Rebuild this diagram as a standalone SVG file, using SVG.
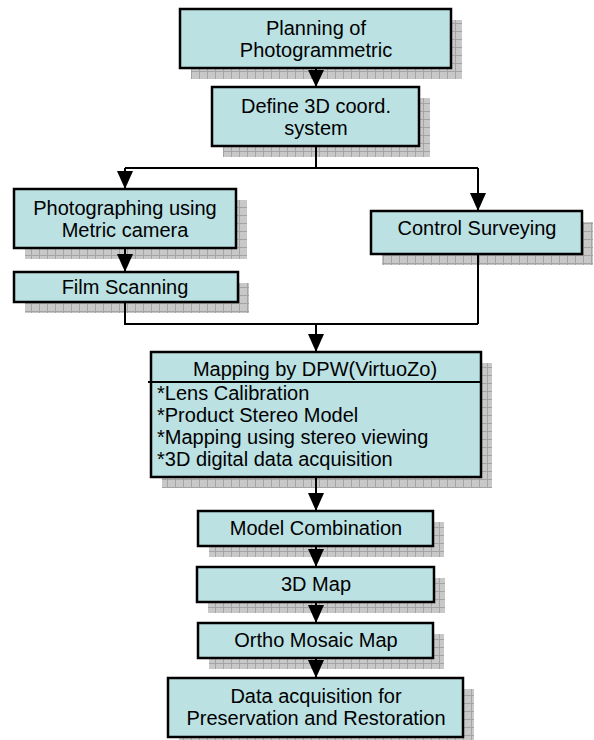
<svg xmlns="http://www.w3.org/2000/svg" width="594" height="740" viewBox="0 0 594 740">
<style>
.box{fill:#bbe1e3;stroke:#000;stroke-width:2.5}
.sh{fill:url(#grid)}
.t{font-family:"Liberation Sans",Arial,sans-serif;font-size:20px;fill:#000;text-anchor:middle}
.tl{font-family:"Liberation Sans",Arial,sans-serif;font-size:20px;fill:#000}
.c{fill:none;stroke:#000;stroke-width:2}
</style>
<defs>
<pattern id="grid" patternUnits="userSpaceOnUse" width="8" height="8">
<rect width="8" height="8" fill="#c8c8c8"/>
<path d="M7.5 0V8M0 7.5H8" stroke="#a4a4a4" stroke-width="1"/>
</pattern>
</defs>
<rect width="594" height="740" fill="#fff"/>
<g id="n1"><rect class="sh" x="191" y="20" width="271" height="59"/><rect class="box" x="180" y="9" width="271" height="59"/>
<text class="t" x="316" y="35">Planning of</text><text class="t" x="316" y="57">Photogrammetric</text></g>
<g id="n2"><rect class="sh" x="223" y="98" width="207" height="59"/><rect class="box" x="212" y="87" width="207" height="59"/>
<text class="t" x="316" y="113">Define 3D coord.</text><text class="t" x="316" y="135">system</text></g>
<g id="n3"><rect class="sh" x="25" y="200" width="222" height="59"/><rect class="box" x="14" y="189" width="222" height="59"/>
<text class="t" x="125" y="215">Photographing using</text><text class="t" x="125" y="237">Metric camera</text></g>
<g id="n4"><rect class="sh" x="25" y="283" width="224" height="30"/><rect class="box" x="14" y="272" width="224" height="30"/>
<text class="t" x="125" y="294">Film Scanning</text></g>
<g id="n5"><rect class="sh" x="382" y="222" width="211" height="43"/><rect class="box" x="371" y="211" width="211" height="43"/>
<text class="t" x="477" y="235">Control Surveying</text></g>
<g id="n6"><rect class="sh" x="162" y="363" width="330" height="125"/><rect class="box" x="151" y="352" width="330" height="125"/>
<path d="M148 382H481" stroke="#000" stroke-width="2"/>
<text class="t" x="315" y="376">Mapping by DPW(VirtuoZo)</text>
<text class="tl" x="157" y="400">*Lens Calibration</text>
<text class="tl" x="157" y="422">*Product Stereo Model</text>
<text class="tl" x="157" y="444">*Mapping using stereo viewing</text>
<text class="tl" x="157" y="466">*3D digital data acquisition</text></g>
<g id="n7"><rect class="sh" x="209" y="522" width="235" height="35"/><rect class="box" x="198" y="511" width="235" height="35"/>
<text class="t" x="316" y="535">Model Combination</text></g>
<g id="n8"><rect class="sh" x="208" y="578" width="237" height="35"/><rect class="box" x="197" y="567" width="237" height="35"/>
<text class="t" x="316" y="591">3D Map</text></g>
<g id="n9"><rect class="sh" x="209" y="634" width="235" height="35"/><rect class="box" x="198" y="623" width="235" height="35"/>
<text class="t" x="316" y="647">Ortho Mosaic Map</text></g>
<g id="n10"><rect class="sh" x="179" y="689" width="295" height="60"/><rect class="box" x="168" y="678" width="295" height="59"/>
<text class="t" x="316" y="703">Data acquisition for</text><text class="t" x="316" y="725">Preservation and Restoration</text></g>
<g id="connectors">
<path class="c" d="M316 69V86"/>
<path class="c" d="M316 147V168M125 168H478"/>
<path class="c" d="M125 168V188"/>
<path class="c" d="M478 168V210"/>
<path class="c" d="M125 249V271"/>
<path class="c" d="M125 303V324H478M478 255V324"/>
<path class="c" d="M316 324V351"/>
<path class="c" d="M316 478V510"/>
<path class="c" d="M316 547V566"/>
<path class="c" d="M316 603V622"/>
<path class="c" d="M316 659V677"/>
<g fill="#000">
<path d="M308 70H324L316 87Z"/>
<path d="M117 171H133L125 189Z"/>
<path d="M470 193H486L478 211Z"/>
<path d="M117 254H133L125 272Z"/>
<path d="M308 334H324L316 352Z"/>
<path d="M308 493H324L316 511Z"/>
<path d="M308 549H324L316 567Z"/>
<path d="M308 605H324L316 623Z"/>
<path d="M308 660H324L316 678Z"/>
</g>
</g>
</svg>
